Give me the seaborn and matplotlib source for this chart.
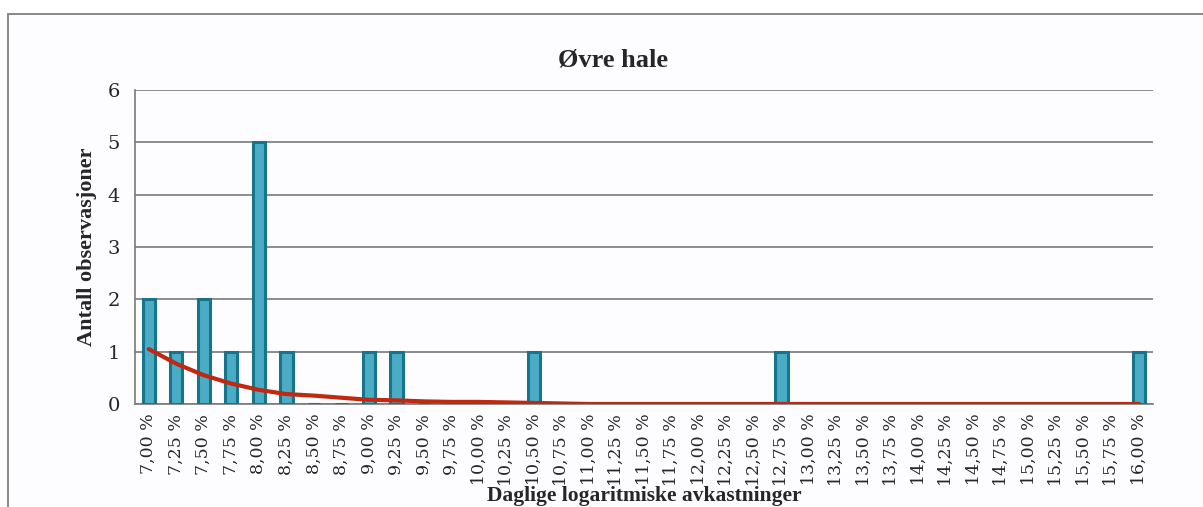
import numpy as np
import pandas as pd
import seaborn as sns
import matplotlib.pyplot as plt
from matplotlib.patches import Rectangle

# categories (daily log returns, %), counts and fitted curve
returns = [7.00, 7.25, 7.50, 7.75, 8.00, 8.25, 8.50, 8.75, 9.00, 9.25, 9.50, 9.75,
           10.00, 10.25, 10.50, 10.75, 11.00, 11.25, 11.50, 11.75, 12.00, 12.25,
           12.50, 12.75, 13.00, 13.25, 13.50, 13.75, 14.00, 14.25, 14.50, 14.75,
           15.00, 15.25, 15.50, 15.75, 16.00]
counts = [2, 1, 2, 1, 5, 1, 0, 0, 1, 1, 0, 0,
          0, 0, 1, 0, 0, 0, 0, 0, 0, 0,
          0, 1, 0, 0, 0, 0, 0, 0, 0, 0,
          0, 0, 0, 0, 1]
normal_fit = [1.05, 0.77, 0.55, 0.39, 0.27, 0.19, 0.16, 0.12, 0.08, 0.07, 0.05, 0.04,
              0.04, 0.03, 0.02, 0.01, 0, 0, 0, 0, 0, 0,
              0, 0, 0, 0, 0, 0, 0, 0, 0, 0,
              0, 0, 0, 0, 0]
labels = [f"{r:.2f}".replace(".", ",") + " %" for r in returns]

df = pd.DataFrame({"label": labels, "count": counts, "fit": normal_fit})
df["pos"] = np.arange(len(df))

sns.set_style("white")
plt.rcParams["font.family"] = ["Liberation Serif", "DejaVu Serif"]

fig = plt.figure(figsize=(12.03, 5.07), dpi=100)
fig.patch.set_facecolor("white")
# chart frame (Excel style), partly cut off at right and bottom
frame = Rectangle((8 / 1203, -0.2), 1.5, 1 - 14 / 507 + 0.2,
                  transform=fig.transFigure, facecolor="#fdfcfe",
                  edgecolor="#7f7f7f", linewidth=1.3, zorder=-10)
fig.patches.append(frame)
ax = fig.add_axes([135 / 1203, 1 - 404 / 507, (1153 - 135) / 1203, (404 - 90) / 507])
ax.set_facecolor("none")

sns.barplot(data=df, x="label", y="count", width=0.45, color="#4bacc6",
            edgecolor="#17748b", linewidth=2.2, saturation=1, ax=ax, zorder=3)
sns.lineplot(data=df, x="pos", y="fit", color="#c0280f", linewidth=3,
             ax=ax, zorder=4)

ax.set_xlim(-0.5, len(df) - 0.5)
ax.set_ylim(0, 6)
ax.set_yticks(range(7))
ax.yaxis.grid(True, color="#7a7a7a", linewidth=1.2)
ax.set_axisbelow(True)

# ticks between categories, labels at the centre
ax.set_xticks(df["pos"])
ax.set_xticklabels(labels, rotation=90, fontsize=12.5, family="DejaVu Serif")
ax.set_xticks(np.arange(-0.5, len(df), 1), minor=True)
ax.tick_params(axis="x", which="major", length=0, pad=7)
ax.tick_params(axis="x", which="minor", length=6, color="#7a7a7a", width=1.2)
ax.tick_params(axis="y", length=5, color="#7a7a7a", width=1.2, pad=6)
for t in ax.get_yticklabels():
    t.set_fontfamily("DejaVu Serif")
    t.set_fontsize(14)

for s in ["top", "right"]:
    ax.spines[s].set_visible(False)
for s in ["left", "bottom"]:
    ax.spines[s].set_color("#7a7a7a")
    ax.spines[s].set_linewidth(1.2)

fig.suptitle("Øvre hale", x=613 / 1203, y=1 - 60 / 507, va="center",
             fontsize=19, fontweight="bold")
ax.set_ylabel("Antall observasjoner", fontsize=16, fontweight="bold")
ax.yaxis.set_label_coords(-38 / 1018, 0.5)
ax.set_xlabel("Daglige logaritmiske avkastninger", fontsize=15.5, fontweight="bold")
ax.xaxis.set_label_coords(0.5, (404 - 486) / 314)

fig.savefig("out.png", dpi=100)
